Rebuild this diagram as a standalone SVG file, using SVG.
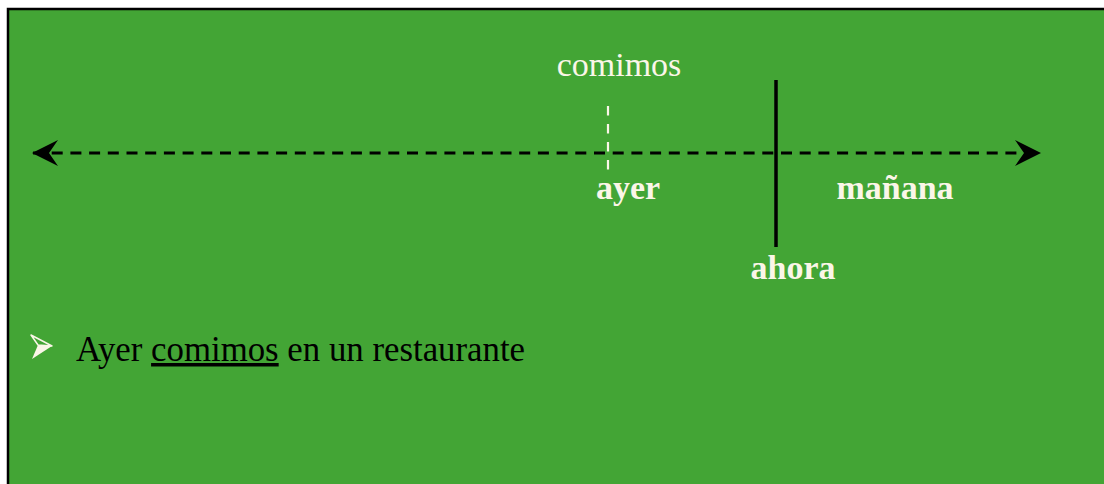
<svg xmlns="http://www.w3.org/2000/svg" width="1104" height="484" viewBox="0 0 1104 484">
<style>
.lbl{font-family:"Liberation Serif","Times New Roman",serif;fill:#FBF6E8}
.b{font-weight:bold;font-size:34px}
.dash{stroke:#000;stroke-width:3;stroke-dasharray:11 7.7;fill:none}
</style>
<defs>
<marker id="ah" viewBox="0 0 26 26" refX="25" refY="13" markerWidth="26" markerHeight="26" markerUnits="userSpaceOnUse" orient="auto-start-reverse">
<path d="M0,0 L26,13 L0,26 L9,13 Z" fill="#000"/>
</marker>
</defs>
<rect x="0" y="0" width="1104" height="484" fill="#fff"/>
<rect x="8" y="9" width="1104" height="484" fill="#43A535" stroke="#000" stroke-width="2.5"/>
<g id="connectors">
<line class="dash" x1="33" y1="153" x2="1040" y2="153" marker-start="url(#ah)" marker-end="url(#ah)"/>
<line x1="608" y1="106" x2="608" y2="172" stroke="#FBF6E8" stroke-width="2.2" stroke-dasharray="9.5 8.5"/>
<line x1="776" y1="80" x2="776" y2="247" stroke="#000" stroke-width="3.5"/>
</g>
<g id="comimos"><text class="lbl" x="619" y="76" font-size="34" text-anchor="middle">comimos</text></g>
<g id="ayer"><text class="lbl b" x="628" y="199" text-anchor="middle">ayer</text></g>
<g id="manana"><text class="lbl b" x="895" y="199" text-anchor="middle">mañana</text></g>
<g id="ahora"><text class="lbl b" x="793" y="279" text-anchor="middle">ahora</text></g>
<g id="sentence">
<path d="M38,345 L52,346 L32,359 Z" fill="#FBF6E8"/>
<path d="M31,335 L52,346 L38,345 Z" fill="none" stroke="#FBF6E8" stroke-width="1.5" stroke-linejoin="round"/>
<text x="76" y="361" font-family="'Liberation Serif','Times New Roman',serif" font-size="34.8" fill="#000">Ayer <tspan text-decoration="underline">comimos</tspan> en un restaurante</text>
</g>
</svg>
